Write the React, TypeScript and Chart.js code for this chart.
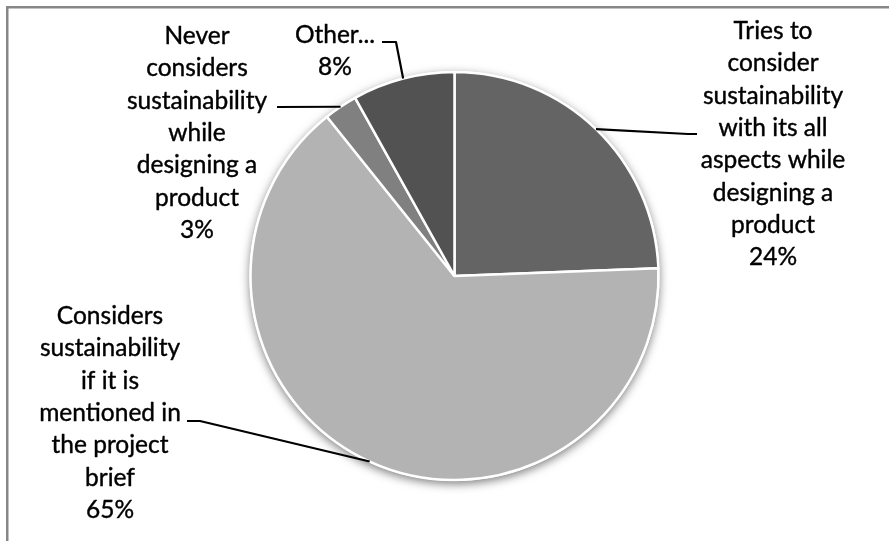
import React, { useEffect, useRef } from "react";
import { Chart, registerables } from "chart.js";

Chart.register(...registerables);

// ---- data ----
const categories: string[] = [
  "Tries to\nconsider\nsustainability\nwith its all\naspects while\ndesigning a\nproduct",
  "Considers\nsustainability\nif it is\nmentioned in\nthe project\nbrief",
  "Never\nconsiders\nsustainability\nwhile\ndesigning a\nproduct",
  "Other...",
];
const values: number[] = [24.4, 64.85, 2.65, 8.1];
const sliceColors: string[] = ["#646464", "#b3b3b3", "#808080", "#525252"];

// ---- layout (label placement) ----
const labelAnchors = [
  { x: 773, y: 39 },
  { x: 110, y: 324 },
  { x: 197, y: 44 },
  { x: 335, y: 43 },
];
const leaderPaths: number[][][] = [
  [[688, 134], [697, 134]],
  [[200, 421], [187, 421]],
  [[277, 107]],
  [[396, 42], [382, 42]],
];
const FONT = "24.5px Lato, 'Open Sans', sans-serif";
const LINE_H = 32.3;

const framePlugin = {
  id: "frame",
  beforeDraw(chart: any) {
    const ctx = chart.ctx;
    ctx.save();
    ctx.fillStyle = "#ffffff";
    ctx.fillRect(0, 0, chart.width, chart.height);
    ctx.fillStyle = "#878787";
    ctx.fillRect(6, 6, chart.width, 2.5);
    ctx.fillRect(6, 6, 2.5, chart.height);
    ctx.restore();
  },
};

const shadowPlugin = {
  id: "pieShadow",
  beforeDatasetsDraw(chart: any) {
    const meta = chart.getDatasetMeta(0);
    const el = meta.data[0];
    if (!el) return;
    const ctx = chart.ctx;
    ctx.save();
    ctx.shadowColor = "rgba(0,0,0,0.5)";
    ctx.shadowBlur = 10;
    ctx.shadowOffsetX = 0;
    ctx.shadowOffsetY = 3;
    ctx.fillStyle = "#ffffff";
    ctx.beginPath();
    ctx.arc(el.x, el.y, el.outerRadius + 1, 0, Math.PI * 2);
    ctx.fill();
    ctx.restore();
  },
};

const labelPlugin = {
  id: "pieLabels",
  afterDatasetsDraw(chart: any) {
    const meta = chart.getDatasetMeta(0);
    const ctx = chart.ctx;
    const data: number[] = chart.data.datasets[0].data;
    const total = data.reduce((a, b) => a + b, 0);
    ctx.save();
    meta.data.forEach((el: any, i: number) => {
      const mid = (el.startAngle + el.endAngle) / 2;
      const sx = el.x + Math.cos(mid) * el.outerRadius;
      const sy = el.y + Math.sin(mid) * el.outerRadius;
      ctx.strokeStyle = "#000000";
      ctx.lineWidth = 2.2;
      ctx.lineJoin = "round";
      ctx.beginPath();
      ctx.moveTo(sx, sy);
      leaderPaths[i].forEach((p) => ctx.lineTo(p[0], p[1]));
      ctx.stroke();

      const lines = String(chart.data.labels[i]).split("\n");
      lines.push(Math.round((data[i] / total) * 100) + "%");
      ctx.fillStyle = "#000000";
      ctx.font = FONT;
      ctx.textAlign = "center";
      ctx.textBaseline = "alphabetic";
      ctx.lineWidth = 0.4;
      const a = labelAnchors[i];
      lines.forEach((t, k) => {
        ctx.fillText(t, a.x, a.y + k * LINE_H);
        ctx.strokeText(t, a.x, a.y + k * LINE_H);
      });
    });
    ctx.restore();
  },
};

export default function App() {
  const ref = useRef<HTMLCanvasElement | null>(null);
  useEffect(() => {
    if (!ref.current) return;
    const chart = new Chart(ref.current, {
      type: "pie",
      data: {
        labels: categories,
        datasets: [
          {
            data: values,
            backgroundColor: sliceColors,
            borderColor: "#ffffff",
            borderWidth: 2.5,
          },
        ],
      },
      options: {
        responsive: false,
        animation: false,
        radius: 204,
        layout: { padding: { left: 20, right: 0, top: 11, bottom: 0 } },
        plugins: {
          legend: { display: false },
          tooltip: { enabled: false },
        },
      } as any,
      plugins: [framePlugin, shadowPlugin, labelPlugin],
    });
    return () => chart.destroy();
  }, []);
  return (
    <div style={{ position: "fixed", left: 0, top: 0, width: 889, height: 541 }}>
      <canvas ref={ref} width={889} height={541} style={{ display: "block" }} />
    </div>
  );
}
